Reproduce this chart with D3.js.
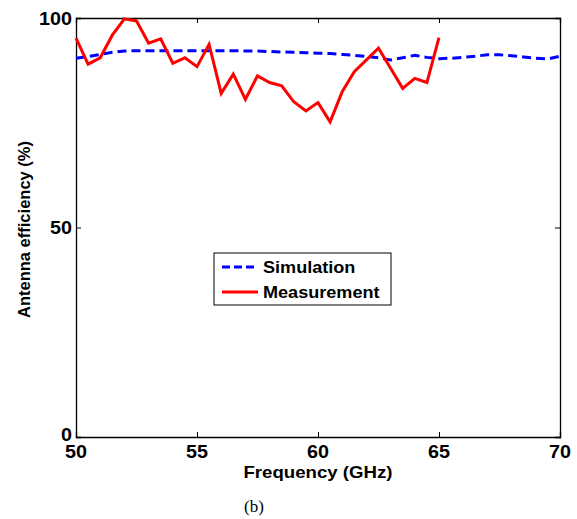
<!DOCTYPE html>
<html>
<head>
<meta charset="utf-8">
<script src="https://cdn.jsdelivr.net/npm/d3@7"></script>
<style>
  body { margin: 0; background: #fff; }
  svg text { font-family: Arial, "Liberation Sans", Helvetica, sans-serif; }
</style>
</head>
<body>
<svg id="chart" width="577" height="519"></svg>
<script>
// Frequency grid (GHz)
const simFreq = [50,50.5,51,51.5,52,52.5,53,53.5,54,54.5,55,55.5,56,56.5,57,57.5,58,58.5,59,59.5,60,60.5,61,61.5,62,62.5,63,63.5,64,64.5,65,65.5,66,66.5,67,67.5,68,68.5,69,69.5,70];
// Simulated efficiency (%)
const simEff = [90.4,90.8,91.3,91.8,92.1,92.2,92.2,92.2,92.2,92.2,92.2,92.2,92.2,92.2,92.1,92.1,92.0,91.9,91.8,91.7,91.6,91.5,91.3,91.1,90.8,90.5,90.0,90.5,91.1,90.6,90.3,90.4,90.6,90.9,91.2,91.2,91.0,90.7,90.4,90.2,90.9];
// Measured efficiency (%)
const measFreq = [50,50.5,51,51.5,52,52.5,53,53.5,54,54.5,55,55.5,56,56.5,57,57.5,58,58.5,59,59.5,60,60.5,61,61.5,62,62.5,63,63.5,64,64.5,65];
const measEff = [95.2,89.0,90.5,95.9,99.8,99.3,94.0,95.0,89.2,90.5,88.4,93.7,82.0,86.6,80.6,86.2,84.6,83.8,80.0,77.8,79.8,75.2,82.4,87.2,90.0,92.8,88.0,83.2,85.6,84.6,95.3];
const xTicks = [50,55,60,65,70];
const yTicks = [0,50,100];

const svg = d3.select("#chart");
const plotL = 76, plotR = 560, plotT = 18, plotB = 437;
const stretch = 1.13; // slightly wide sans lettering

const x = d3.scaleLinear().domain([50,70]).range([plotL,plotR]);
const y = d3.scaleLinear().domain([0,100]).range([plotB,plotT]);

// Places a horizontally widened text at (px, py)
function label(g, px, py, str, size, anchor) {
  return g.append("text")
    .attr("transform", `translate(${px},${py}) scale(${stretch},1)`)
    .attr("text-anchor", anchor).attr("font-size", size).attr("font-weight", "bold")
    .text(str);
}

// Axes box with inward ticks on all four sides
const tickLen = 5;
svg.append("g").attr("transform",`translate(0,${plotB})`)
  .call(d3.axisBottom(x).tickValues(xTicks).tickSize(-tickLen).tickFormat(""));
svg.append("g").attr("transform",`translate(0,${plotT})`)
  .call(d3.axisTop(x).tickValues(xTicks).tickSize(-tickLen).tickFormat(""));
svg.append("g").attr("transform",`translate(${plotL},0)`)
  .call(d3.axisLeft(y).tickValues(yTicks).tickSize(-tickLen).tickFormat(""));
svg.append("g").attr("transform",`translate(${plotR},0)`)
  .call(d3.axisRight(y).tickValues(yTicks).tickSize(-tickLen).tickFormat(""));
svg.selectAll(".domain").attr("stroke","#000").attr("stroke-width",1.3);
svg.selectAll(".tick line").attr("stroke","#000").attr("stroke-width",1);

// Tick labels
const xl = svg.append("g");
xTicks.forEach(d => label(xl, x(d), plotB + 21, d, 17.5, "middle"));
const yl = svg.append("g");
yTicks.forEach(d => label(yl, plotL - 4, y(d) + (d === 0 ? 3.5 : 6.5), d, 17.5, "end"));

// Axis titles
label(svg, x(60), plotB + 41, "Frequency (GHz)", 16.5, "middle");
svg.append("text")
  .attr("transform",`translate(30,${(plotT+plotB)/2 + 2}) rotate(-90)`)
  .attr("text-anchor","middle").attr("font-size",16.5).attr("font-weight","bold")
  .text("Antenna efficiency (%)");
svg.append("text").attr("x", 254).attr("y", 512)
  .attr("text-anchor","middle").attr("font-size",17)
  .style("font-family","'Liberation Serif', 'Times New Roman', serif")
  .text("(b)");

// Data lines
const line = d3.line().x(d => x(d[0])).y(d => y(d[1]));
svg.append("path")
  .datum(simFreq.map((f,i) => [f, simEff[i]]))
  .attr("d", line).attr("fill","none")
  .attr("stroke","#0000ff").attr("stroke-width",3)
  .attr("stroke-dasharray","9,5");
svg.append("path")
  .datum(measFreq.map((f,i) => [f, measEff[i]]))
  .attr("d", line).attr("fill","none")
  .attr("stroke","#ff0000").attr("stroke-width",3)
  .attr("stroke-linejoin","miter");

// Legend
const lg = svg.append("g").attr("transform","translate(214,253)");
lg.append("rect").attr("width",177).attr("height",52)
  .attr("fill","#fff").attr("stroke","#000").attr("stroke-width",1);
const items = [
  {label:"Simulation", color:"#0000ff", dash:"8,4"},
  {label:"Measurement", color:"#ff0000", dash:null}
];
items.forEach((it,i) => {
  const yy = 14 + i*25;
  lg.append("line").attr("x1",8).attr("x2",44).attr("y1",yy).attr("y2",yy)
    .attr("stroke",it.color).attr("stroke-width",3)
    .attr("stroke-dasharray",it.dash);
  label(lg, 49, yy + 6, it.label, 16, "start");
});
</script>
</body>
</html>
